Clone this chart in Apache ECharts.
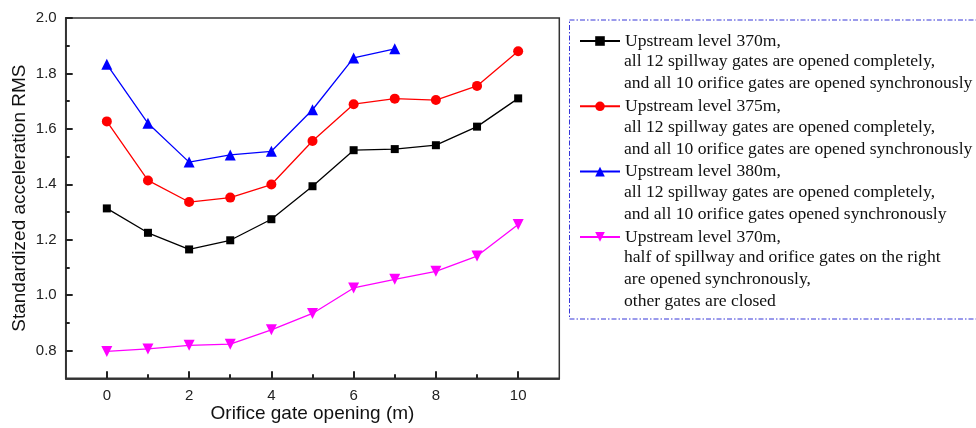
<!DOCTYPE html>
<html>
<head>
<meta charset="utf-8">
<script src="https://cdn.jsdelivr.net/npm/echarts@6/dist/echarts.min.js"></script>
<style>
html,body{margin:0;padding:0;background:#fff;}
#chart{width:976px;height:428px;}
</style>
</head>
<body>
<div id="chart"></div>
<script>
// ---- data ----
const xValues = [0, 1, 2, 3, 4, 5, 6, 7, 8, 9, 10];
const level370 = [1.313, 1.225, 1.165, 1.198, 1.274, 1.393, 1.523, 1.527, 1.541, 1.608, 1.710];
const level375 = [1.627, 1.414, 1.336, 1.352, 1.399, 1.556, 1.689, 1.709, 1.704, 1.755, 1.880];
const level380 = [1.833, 1.620, 1.480, 1.506, 1.519, 1.669, 1.856, 1.889];
const level370Half = [0.797, 0.806, 0.819, 0.823, 0.875, 0.934, 1.026, 1.057, 1.086, 1.141, 1.255];

const xTickLabels = [0, 2, 4, 6, 8, 10];
const xMinorTicks = [1, 3, 5, 7, 9];
const yTickLabels = [0.8, 1.0, 1.2, 1.4, 1.6, 1.8, 2.0];
const yMinorTicks = [0.9, 1.1, 1.3, 1.5, 1.7, 1.9];

const legendLines = [
  ['Upstream level 370m,', 'all 12 spillway gates are opened completely,', 'and all 10 orifice gates are opened synchronously'],
  ['Upstream level 375m,', 'all 12 spillway gates are opened completely,', 'and all 10 orifice gates are opened synchronously'],
  ['Upstream level 380m,', 'all 12 spillway gates are opened completely,', 'and all 10 orifice gates opened synchronously'],
  ['Upstream level 370m,', 'half of spillway and orifice gates on the right', 'are opened synchronously,', 'other gates are closed']
];
const xTitle = 'Orifice gate opening (m)';
const yTitle = 'Standardized acceleration RMS';

// ---- styles ----
const colors = ['#000000', '#ff0000', '#0000ff', '#ff00ff'];
const symbols = ['rect', 'circle', 'triangle', 'triangle'];
const symbolSizes = [8, 10, 11, 11];
const symbolRotates = [0, 0, 0, 180];
const seriesValues = [level370, level375, level380, level370Half];

const names = legendLines.map(l => l.join('\n'));

const series = seriesValues.map((vals, i) => ({
  name: names[i],
  type: 'line',
  xAxisIndex: 0,
  yAxisIndex: 0,
  data: vals.map((v, k) => [xValues[k], v]),
  symbol: symbols[i],
  symbolSize: symbolSizes[i],
  symbolRotate: symbolRotates[i],
  showAllSymbol: true,
  lineStyle: { color: colors[i], width: 1.3 },
  itemStyle: { color: colors[i] },
  emphasis: { disabled: true },
  animation: false,
  z: 3
}));

const axisLineStyle = { color: '#333', width: 1.5 };
const labelFont = { fontFamily: 'Liberation Sans, Arial, sans-serif', fontSize: 15, color: '#222' };
const titleFont = { fontFamily: 'Liberation Sans, Arial, sans-serif', fontSize: 19, color: '#111' };
const serifFont = 'Liberation Serif, Times New Roman, serif';

// legend continuation lines as graphic text
const legendFirstY = 40;
const legendItemStep = 65.3;
const lineStep = 21.8;
const graphics = [{
  type: 'rect',
  shape: { x: 569.5, y: 20, width: 420, height: 299 },
  style: { fill: 'none', stroke: '#3636d8', lineWidth: 1, lineDash: [5, 2, 1.5, 2] },
  z: 0
}];
legendLines.forEach((lines, i) => {
  lines.slice(1).forEach((t, k) => {
    graphics.push({
      type: 'text',
      x: 624,
      y: legendFirstY + i * legendItemStep + (k + 1) * lineStep,
      style: {
        text: t,
        fontFamily: serifFont,
        fontSize: 17.6,
        fill: '#111',
        verticalAlign: 'middle',
        align: 'left'
      },
      z: 5
    });
  });
});

const option = {
  animation: false,
  grid: {
    left: 65.7, right: 416.7, top: 18, bottom: 49.7,
    outerBoundsMode: 'none', containLabel: false,
    show: true, borderColor: '#333', borderWidth: 1.5
  },
  legend: {
    orient: 'vertical',
    left: 579,
    top: 31,
    itemWidth: 40,
    itemHeight: 12,
    itemGap: 45.3,
    selectedMode: false,
    data: names,
    formatter: n => n.split('\n')[0],
    textStyle: { fontFamily: serifFont, fontSize: 17.6, color: '#111', lineHeight: 20 },
    padding: 0
  },
  graphic: graphics,
  xAxis: [{
    type: 'value', min: -1, max: 11, interval: 1, position: 'bottom', z: 5,
    name: xTitle, nameLocation: 'middle', nameGap: 26, nameMoveOverlap: false,
    nameTextStyle: titleFont,
    axisLine: { show: true, lineStyle: axisLineStyle, onZero: false },
    axisTick: { show: true, inside: true, length: 7, customValues: xTickLabels, lineStyle: { color: '#222', width: 2 } },
    axisLabel: Object.assign({ margin: 10, customValues: xTickLabels }, labelFont),
    splitLine: { show: false }
  }, {
    type: 'value', min: -1, max: 11, interval: 1, position: 'bottom', z: 5,
    axisLine: { show: true, lineStyle: axisLineStyle, onZero: false },
    axisTick: { show: true, inside: true, length: 4, customValues: xMinorTicks, lineStyle: { color: '#222', width: 2 } },
    axisLabel: { show: false },
    splitLine: { show: false }
  }],
  yAxis: [{
    type: 'value', min: 0.7, max: 2.0, interval: 0.1, position: 'left', z: 5,
    name: yTitle, nameLocation: 'middle', nameGap: 36, nameMoveOverlap: false,
    nameTextStyle: titleFont,
    axisLine: { show: true, lineStyle: axisLineStyle, onZero: false },
    axisTick: { show: true, inside: true, length: 7, customValues: yTickLabels, lineStyle: { color: '#222', width: 2 } },
    axisLabel: Object.assign({ margin: 9, customValues: yTickLabels, formatter: v => Number(v).toFixed(1) }, labelFont),
    splitLine: { show: false }
  }, {
    type: 'value', min: 0.7, max: 2.0, interval: 0.1, position: 'left', z: 5,
    axisLine: { show: true, lineStyle: axisLineStyle, onZero: false },
    axisTick: { show: true, inside: true, length: 4, customValues: yMinorTicks, lineStyle: { color: '#222', width: 2 } },
    axisLabel: { show: false },
    splitLine: { show: false }
  }],
  series: series
};

const chart = echarts.init(document.getElementById('chart'), null, { renderer: 'canvas' });
chart.setOption(option);
</script>
</body>
</html>
